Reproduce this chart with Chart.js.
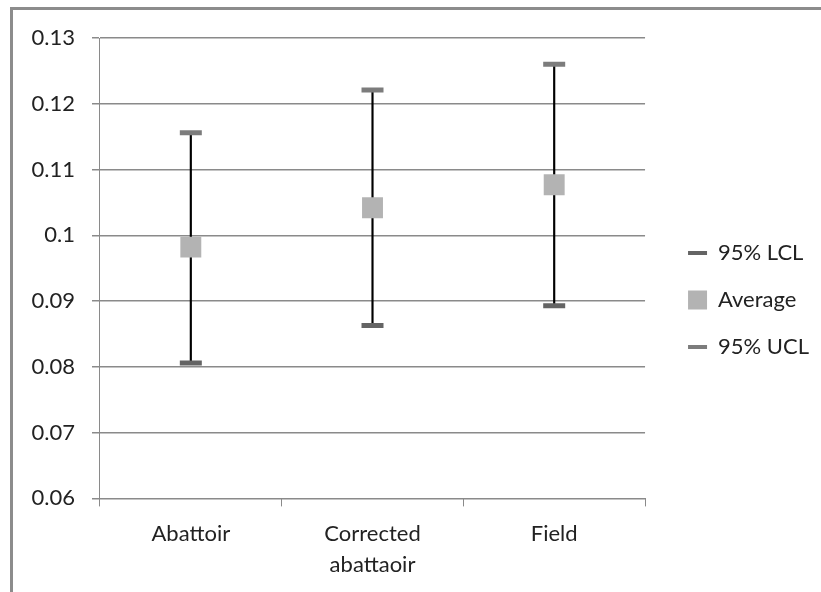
<!DOCTYPE html>
<html>
<head>
<meta charset="utf-8">
<script src="https://cdn.jsdelivr.net/npm/chart.js@4.4.0/dist/chart.umd.min.js"></script>
<style>
  body { margin: 0; background: #fff; }
  #wrap { position: relative; width: 821px; height: 592px; overflow: hidden; }
  #frame { position: absolute; left: 10px; top: 7px; width: 900px; height: 700px;
           border-top: 3px solid #8c8c8c; border-left: 3px solid #8c8c8c; }
  #myChart { position: absolute; left: 0; top: 0; }
</style>
</head>
<body>
<div id="wrap">
  <div id="frame"></div>
  <canvas id="myChart" width="821" height="592"></canvas>
</div>
<script>
const categories = ["Abattoir", ["Corrected", "abattaoir"], "Field"];
const lcl = [0.0806, 0.0863, 0.0893];
const average = [0.0982, 0.1042, 0.1077];
const ucl = [0.1156, 0.1221, 0.1260];
const legendNames = ["95% LCL", "Average", "95% UCL"];

const FONT = "Lato, 'Liberation Sans', sans-serif";
const colLcl = "#646464";
const colAvg = "#b3b3b3";
const colUcl = "#7c7c7c";

function drawChart() {
  const ctx = document.getElementById("myChart").getContext("2d");

  // range line from LCL to UCL drawn as a thin floating bar
  const ranges = lcl.map((v, i) => [v, ucl[i]]);

  new Chart(ctx, {
    type: "bar",
    data: {
      labels: categories,
      datasets: [
        {
          label: "range",
          data: ranges,
          backgroundColor: "#000",
          barThickness: 1.5,
          order: 1,
        },
        {
          type: "line",
          label: legendNames[0],
          data: lcl,
          showLine: false,
          pointStyle: "line",
          pointRadius: 11,
          pointBorderWidth: 5,
          pointBorderColor: colLcl,
          order: 0,
        },
        {
          type: "line",
          label: legendNames[1],
          data: average,
          showLine: false,
          pointStyle: "rect",
          pointRadius: 14.8,
          pointBorderWidth: 0,
          pointBackgroundColor: colAvg,
          order: 0,
        },
        {
          type: "line",
          label: legendNames[2],
          data: ucl,
          showLine: false,
          pointStyle: "line",
          pointRadius: 11,
          pointBorderWidth: 5,
          pointBorderColor: colUcl,
          order: 0,
        },
      ],
    },
    options: {
      responsive: false,
      animation: false,
      layout: { padding: { left: 14.5, top: 38, right: 2, bottom: 0 } },
      plugins: {
        tooltip: { enabled: false },
        legend: {
          position: "right",
          align: "start",
          maxWidth: 220,
          title: { display: true, text: "", font: { size: 10, lineHeight: 1 }, padding: { top: 0, bottom: 169 } },
          labels: {
            usePointStyle: true,
            pointStyleWidth: 19,
            boxHeight: 19,
            padding: 25,
            color: "#222",
            font: { family: FONT, size: 22 },
            generateLabels: () => [
              { text: legendNames[0], pointStyle: "line", fillStyle: colLcl, strokeStyle: colLcl, lineWidth: 4, fontColor: "#222" },
              { text: legendNames[1], pointStyle: "rect", fillStyle: colAvg, strokeStyle: colAvg, lineWidth: 0, fontColor: "#222" },
              { text: legendNames[2], pointStyle: "line", fillStyle: colUcl, strokeStyle: colUcl, lineWidth: 4, fontColor: "#222" },
            ],
          },
        },
      },
      scales: {
        x: {
          grid: { display: true, drawOnChartArea: false, offset: true, tickLength: 8, color: "#8a8a8a" },
          border: { color: "#8a8a8a" },
          ticks: { padding: 12, color: "#222", font: { family: FONT, size: 22, lineHeight: 1.4 }, maxRotation: 0 },
        },
        y: {
          min: 0.06,
          max: 0.13,
          grid: { color: "#8a8a8a", lineWidth: 1.5, tickLength: 8 },
          border: { color: "#8a8a8a", width: 1 },
          ticks: {
            stepSize: 0.01,
            padding: 17,
            color: "#222",
            font: { family: FONT, size: 22 },
            callback: (v) => String(+v.toFixed(2)),
          },
        },
        // empty spacer between plot and legend
        gap: {
          position: "right",
          display: true,
          grid: { display: false },
          border: { display: false },
          ticks: { display: false },
          afterFit: (s) => { s.width = 18; },
        },
      },
    },
  });
}

drawChart();
</script>
</body>
</html>
